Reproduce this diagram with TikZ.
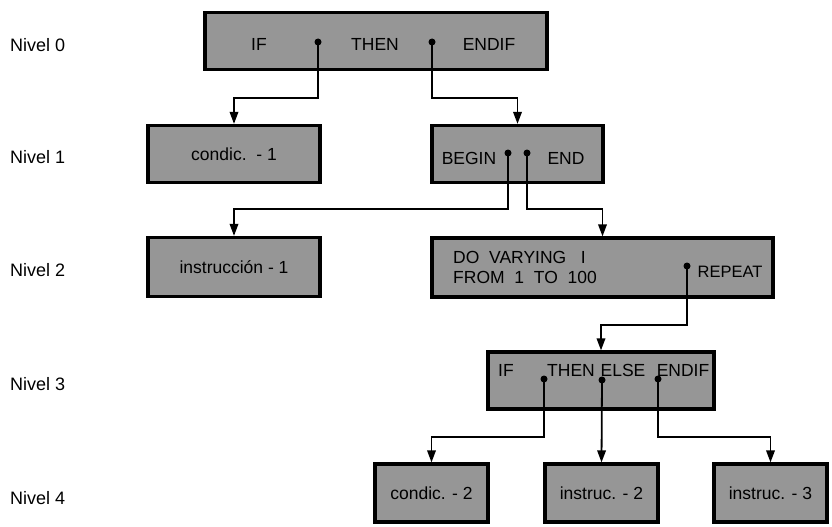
\documentclass[tikz,border=0pt]{standalone}
\usepackage{fontspec}
\setmainfont{Liberation Sans}
\usetikzlibrary{arrows.meta}
\definecolor{boxgray}{RGB}{150,150,150}
\tikzset{
  box/.style={draw=black, line width=3.2pt, fill=boxgray, inner sep=0pt, font=\fontsize{17.5}{20}\selectfont},
  txt/.style={inner sep=0pt, font=\fontsize{17.5}{20}\selectfont},
  lvl/.style={inner sep=0pt, anchor=west, font=\fontsize{18}{20}\selectfont},
  dot/.style={circle, fill=black, inner sep=0pt, minimum size=7pt},
  conn/.style={line width=1.8pt, -{Triangle[length=12pt,width=8.5pt]}}
}
\begin{document}
\begin{tikzpicture}[x=1pt,y=-1pt]
\useasboundingbox (0,0) rectangle (832,527);
% level labels
\node[lvl] (n0) at (10,45) {Nivel 0};
\node[lvl] (n1) at (10,157) {Nivel 1};
\node[lvl] (n2) at (10,270) {Nivel 2};
\node[lvl] (n3) at (10,384) {Nivel 3};
\node[lvl] (n4) at (10,498) {Nivel 4};
% boxes
\node[box, minimum width=342pt, minimum height=57pt] (b0) at (376,41) {};
\node[box, minimum width=172pt, minimum height=57pt] (c1) at (234,154) {condic.\ \ -\ 1};
\node[box, minimum width=171pt, minimum height=57pt] (be) at (517.5,154) {};
\node[box, minimum width=172pt, minimum height=59pt] (i1) at (234,267) {instrucción - 1};
\node[box, minimum width=341pt, minimum height=59pt] (dv) at (602.5,267.5) {};
\node[box, minimum width=226pt, minimum height=57pt] (b3) at (601,380.5) {};
\node[box, minimum width=113pt, minimum height=58pt] (c2) at (431.5,493) {condic. - 2};
\node[box, minimum width=113pt, minimum height=58pt] (i2) at (601.5,493) {instruc. - 2};
\node[box, minimum width=113pt, minimum height=58pt] (i3) at (770.5,493) {instruc. - 3};
% texts inside boxes
\node[txt] (t0a) at (259,44) {IF};
\node[txt] (t0b) at (375,44) {THEN};
\node[txt] (t0c) at (489,44) {ENDIF};
\node[txt] (t1a) at (469,158) {BEGIN};
\node[txt] (t1b) at (566,158) {END};
\node[txt, anchor=west] (t2a) at (453,257) {DO\ \ VARYING\ \ \ I};
\node[txt, anchor=west] (t2b) at (453,277) {FROM\ \ 1\ \ TO\ \ 100};
\node[txt, font=\fontsize{16.5}{20}\selectfont] (t2c) at (730,272) {REPEAT};
\node[txt] (t3a) at (506,370) {IF};
\node[txt] (t3b) at (571,370) {THEN};
\node[txt] (t3c) at (623,370) {ELSE};
\node[txt] (t3d) at (683,370) {ENDIF};
% dots
\node[dot] (d0a) at (318,42) {};
\node[dot] (d0b) at (432,42) {};
\node[dot] (d1a) at (508,153) {};
\node[dot] (d1b) at (527,153) {};
\node[dot] (d2) at (687,266) {};
\node[dot] (d3a) at (544,379) {};
\node[dot] (d3b) at (602,380) {};
\node[dot] (d3c) at (658,379) {};
% elbow levels
\coordinate (y0) at (0,98);
\coordinate (y1) at (0,209);
\coordinate (y2) at (0,325);
\coordinate (y3) at (0,437);
% connectors
\draw[conn] (d0a.center) -- (d0a |- y0) -| (c1.north);
\draw[conn] (d0b.center) -- (d0b |- y0) -| (be.north);
\draw[conn] (d1a.center) -- (d1a |- y1) -| (i1.north);
\draw[conn] (d1b.center) -- (d1b |- y1) -| (dv.north);
\draw[conn] (d2.center) -- (d2 |- y2) -| (b3.north);
\draw[conn] (d3a.center) -- (d3a |- y3) -| (c2.north);
\draw[conn] (d3b.center) -- (i2.north);
\draw[conn] (d3c.center) -- (d3c |- y3) -| (i3.north);
\end{tikzpicture}
\end{document}
